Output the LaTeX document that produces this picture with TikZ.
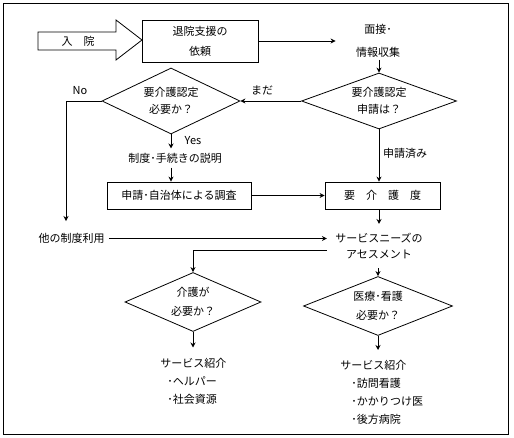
\documentclass[tikz,border=0pt]{standalone}
\usepackage{fontspec}
\setmainfont{Noto Sans CJK JP}
\usetikzlibrary{arrows.meta,shapes.geometric}

\begin{document}
\begin{tikzpicture}[x=1pt, y=-1pt, line width=0.8pt, line join=miter, >={Stealth[length=5pt,width=5pt]},
  font=\fontsize{11}{15}\selectfont,
  box/.style={draw, rectangle, inner sep=0pt},
  dia/.style={draw, diamond, inner sep=0pt, align=center},
  txt/.style={inner sep=4pt, align=center},
  lst/.style={inner xsep=2pt, inner ysep=10pt, align=left, anchor=north west, font=\fontsize{11}{18}\selectfont}]
  \useasboundingbox (0,0) rectangle (514,438);
  % frame
  \draw (3,3) rectangle (508,434);
  % admission arrow
  \draw (38,32) -- (116,32) -- (116,20) -- (142,40) -- (116,60) -- (116,50) -- (38,50) -- cycle;
  \node[txt] (nyuin) at (78,41) {入　院};
  % top row
  \node[box, minimum width=116, minimum height=42, align=center, font=\fontsize{11}{20}\selectfont] (irai) at (200,41) {退院支援の\\依頼};
  \node[txt, inner sep=2pt, font=\fontsize{11}{23}\selectfont] (mensetsu) at (378,41) {面接･\\情報収集};
  \draw[->] (irai.east) -- ([xshift=-18pt]mensetsu.west);
  % decisions
  \node[dia, minimum width=155, minimum height=56, shape aspect=2.77, font=\fontsize{11}{17}\selectfont] (shinsei) at (379,101) {要介護認定\\申請は？};
  \node[dia, minimum width=138, minimum height=66, shape aspect=2.09, font=\fontsize{11}{17}\selectfont] (hitsuyo) at (171,101) {要介護認定\\必要か？};
  \draw[->] (mensetsu.south -| shinsei.north) -- (shinsei.north);
  \draw[->] (shinsei.west) -- (hitsuyo.east);
  \node[txt] (mada) at (262,90) {まだ};
  \node[txt] (no) at (80,91) {No};
  % other systems
  \node[txt] (tasei) at (71.5,238.5) {他の制度利用};
  \draw[->] (hitsuyo.west) -| ([xshift=-5.5pt]tasei.north) [shorten >=8pt];
  % explanation and survey
  \node[txt] (yes) at (193,141) {Yes};
  \node[txt] (setsumei) at (175,158) {制度･手続きの説明};
  \draw[->] (hitsuyo.south) -- (hitsuyo.south |- setsumei.north);
  \node[box, minimum width=144, minimum height=27] (chosa) at (179,195.5) {申請･自治体による調査};
  \draw[->] (setsumei.south -| hitsuyo.south) -- (chosa.north -| hitsuyo.south);
  \node[box, minimum width=115, minimum height=27] (yokaigodo) at (382.5,195.5) {要　介　護　度};
  \draw[->] (chosa.east) -- (yokaigodo.west);
  \draw[->] (shinsei.south) -- (shinsei.south |- yokaigodo.north);
  \node[txt] (sumi) at (405,153) {申請済み};
  % assessment
  \node[txt, inner xsep=8pt, inner ysep=9pt, font=\fontsize{11}{15.5}\selectfont] (assess) at (379,246) {サービスニーズの\\アセスメント};
  \draw[->] (yokaigodo.south -| assess.north) -- (assess.north);
  \draw[->] (tasei.east) -- (tasei.east -| assess.west);
  % lower decisions
  \node[dia, minimum width=136, minimum height=59, shape aspect=2.3, font=\fontsize{11}{19}\selectfont] (kaigo) at (193,302) {介護が\\必要か？};
  \node[dia, minimum width=149, minimum height=59, shape aspect=2.5, font=\fontsize{11}{19}\selectfont] (iryo) at (378,306) {医療･看護\\必要か？};
  \draw[->] ([yshift=-4pt]assess.west) -| (kaigo.north);
  \draw[->] (assess.south -| iryo.north) -- (iryo.north);
  % service lists
  \node[lst] (list1) at (158,347.5) {サービス紹介\\\hspace{7pt}･ヘルパー\\\hspace{7pt}･社会資源};
  \node[lst] (list2) at (338,350) {サービス紹介\\\hspace{11pt}･訪問看護\\\hspace{11pt}･かかりつけ医\\\hspace{11pt}･後方病院};
  \draw[->] (kaigo.south) -- (kaigo.south |- list1.north);
  \draw[->] (iryo.south) -- (iryo.south |- list2.north);
\end{tikzpicture}
\end{document}
